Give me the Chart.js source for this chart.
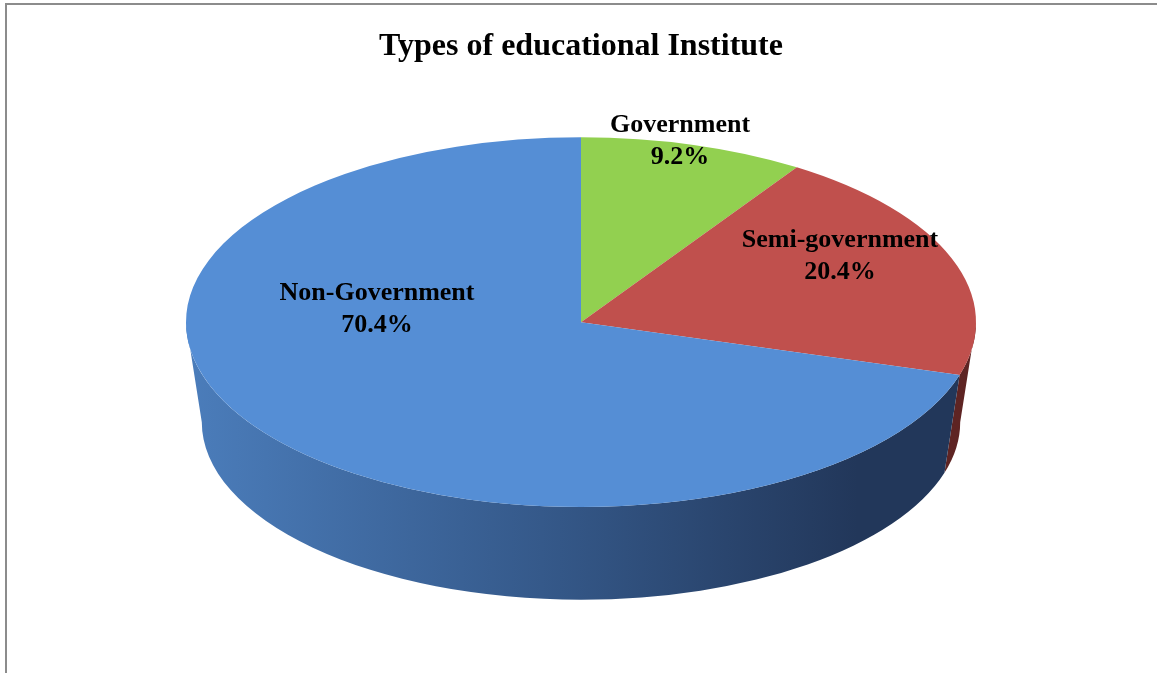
<!DOCTYPE html>
<html>
<head>
<meta charset="utf-8">
<title>Types of educational Institute</title>
<script src="https://cdn.jsdelivr.net/npm/chart.js@4/dist/chart.umd.min.js"></script>
<style>
  html, body { margin:0; padding:0; background:#fff; }
  #wrap { position:relative; width:1157px; height:673px; overflow:hidden; }
  #frame { position:absolute; left:5px; top:3px; width:1200px; height:700px;
           border-top:2px solid #8c8c8c; border-left:2px solid #8c8c8c; pointer-events:none; }
  #pie { position:absolute; left:0; top:0; }
</style>
</head>
<body>
<div id="wrap">
  <canvas id="pie" width="1157" height="673"></canvas>
  <div id="frame"></div>
</div>
<script>
// institute types, share of respondents (%)
const categories = ['Government', 'Semi-government', 'Non-Government'];
const shares = [9.2, 20.4, 70.4];
const topColors = ['#92d050', '#c0504d', '#558ed5'];

// side wall shading, light (left) to dark (right) per slice
const sideShades = [
  ['#7fb548', '#5a8a2c', '#3f6620'],
  ['#a84542', '#803331', '#5e2423'],
  ['#4b7dbb', '#35598a', '#22375a']
];

const TILT = 0.468;   // vertical squash of the top face
const DEPTH = 100;    // pie thickness
const TAPER = 0.96;   // bottom rim slightly smaller (perspective look)

// label block offsets from pie centre, px
const labelShift = [[99, -181], [259, -66], [-204, -13]];

function sideGradient(ctx, cx, r, shades){
  const g = ctx.createLinearGradient(cx - r, 0, cx + r, 0);
  g.addColorStop(0, shades[0]);
  g.addColorStop(0.45, shades[1]);
  g.addColorStop(0.85, shades[2]);
  g.addColorStop(1, shades[2]);
  return g;
}

const pie3d = {
  id: 'pie3d',
  beforeDatasetsDraw(chart){
    const ctx = chart.ctx;
    const arcs = chart.getDatasetMeta(0).data;
    if(!arcs.length) return;
    const cx = arcs[0].x, cy = arcs[0].y, r = arcs[0].outerRadius;
    const ry = r * TILT;
    const bcx = cx, bcy = cy + DEPTH, br = r * TAPER, bry = ry * TAPER;
    // walls: only the part facing the viewer (angles 0..PI, plus wrap at 2PI..3PI)
    arcs.forEach((arc, i)=>{
      [[0, Math.PI], [2*Math.PI, 3*Math.PI], [-2*Math.PI, -Math.PI]].forEach(([lo, hi])=>{
        const a1 = Math.max(arc.startAngle, lo), a2 = Math.min(arc.endAngle, hi);
        if(a2 <= a1) return;
        ctx.save();
        ctx.beginPath();
        ctx.ellipse(cx, cy, r, ry, 0, a1, a2, false);
        ctx.lineTo(bcx + br*Math.cos(a2), bcy + bry*Math.sin(a2));
        ctx.ellipse(bcx, bcy, br, bry, 0, a2, a1, true);
        ctx.closePath();
        ctx.fillStyle = sideGradient(ctx, cx, r, sideShades[i]);
        ctx.fill();
        ctx.restore();
      });
    });
    // squash the top face drawn by the library
    ctx.save();
    ctx.translate(cx, cy);
    ctx.scale(1, TILT);
    ctx.translate(-cx, -cy);
  },
  afterDatasetsDraw(chart){
    const ctx = chart.ctx;
    ctx.restore();
    const arcs = chart.getDatasetMeta(0).data;
    if(!arcs.length) return;
    const cx = arcs[0].x, cy = arcs[0].y;
    ctx.save();
    ctx.fillStyle = '#000';
    ctx.font = 'bold 26px "Liberation Serif", "Times New Roman", serif';
    ctx.textAlign = 'center';
    ctx.textBaseline = 'middle';
    chart.data.labels.forEach((lab, i)=>{
      const x = cx + labelShift[i][0], y = cy + labelShift[i][1];
      ctx.fillText(lab, x, y - 16);
      ctx.fillText(shares[i].toFixed(1) + '%', x, y + 16);
    });
    ctx.restore();
  }
};

const ctx = document.getElementById('pie').getContext('2d');
new Chart(ctx, {
  type: 'pie',
  data: {
    labels: categories,
    datasets: [{
      data: shares,
      backgroundColor: topColors,
      borderWidth: 0,
      radius: 395,
      clip: false
    }]
  },
  options: {
    responsive: false,
    animation: false,
    layout: { padding: { left: 5, right: 0, top: 0, bottom: 105 } },
    plugins: {
      legend: { display: false },
      tooltip: { enabled: false },
      title: {
        display: true,
        text: 'Types of educational Institute',
        color: '#000',
        font: { family: '"Liberation Serif", "Times New Roman", serif', size: 32, weight: 'bold' },
        padding: { top: 28, bottom: 10 }
      }
    }
  },
  plugins: [pie3d]
});
</script>
</body>
</html>
